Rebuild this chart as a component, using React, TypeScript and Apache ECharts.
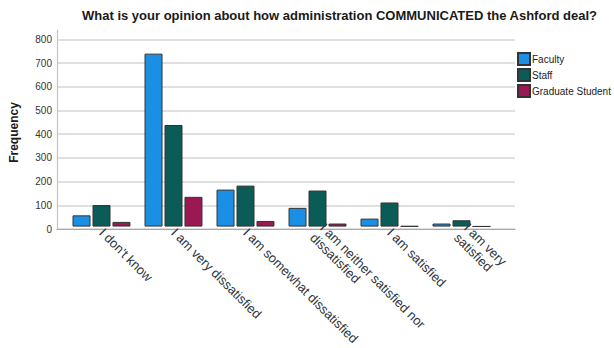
import React, { useEffect, useRef } from "react";
import * as echarts from "echarts";

const categories = [
  "I don't know",
  "I am very dissatisfied",
  "I am somewhat dissatisfied",
  "I am neither satisfied nor\ndissatisfied",
  "I am satisfied",
  "I am very\nsatisfied",
];
const faculty = [48, 739, 158, 80, 34, 13];
const staff = [92, 434, 175, 154, 103, 27];
const gradStudent = [20, 127, 24, 13, 2, 1];
const seriesNames = ["Faculty", "Staff", "Graduate Student"];
const colors = ["#1b8fe3", "#0b5b57", "#9b1952"];
const titleText = "What is your opinion about how administration COMMUNICATED the Ashford deal?";

export default function App() {
  const ref = useRef<HTMLDivElement>(null);
  useEffect(() => {
    if (!ref.current) return;
    const chart = echarts.init(ref.current, undefined, { renderer: "svg" });
    const font = "'Liberation Sans', Arial, sans-serif";
    const values = [faculty, staff, gradStudent];
    chart.setOption({
      animation: false,
      textStyle: { fontFamily: font },
      title: {
        text: titleText,
        left: 339.5,
        textAlign: "center",
        top: 9,
        padding: 0,
        textStyle: { fontSize: 13, fontWeight: "bold", color: "#1a1a1a", fontFamily: font },
      },
      legend: {
        orient: "vertical",
        left: 517,
        top: 52,
        padding: 0,
        itemWidth: 12,
        itemHeight: 12,
        itemGap: 2,
        icon: "rect",
        data: seriesNames,
        textStyle: { fontSize: 10, color: "#222", padding: [0, 0, 0, -3], fontFamily: font },
      },
      grid: [
        { left: 48, right: 99, top: 30, bottom: 119 },
        { left: 65.5, right: 116.5, top: 30, bottom: 119 },
      ],
      xAxis: [
        {
          gridIndex: 0,
          type: "value",
          min: 0,
          max: 1,
          axisLine: { show: true, lineStyle: { color: "#a8a8a8", width: 1.2 } },
          axisTick: { show: false },
          axisLabel: { show: false },
          splitLine: { show: false },
        },
        {
          gridIndex: 1,
          type: "category",
          data: categories,
          axisLine: { show: false },
          axisTick: { show: false },
          axisLabel: {
            rotate: -45,
            interval: 0,
            margin: 4,
            fontSize: 13,
            color: "#333",
            lineHeight: 14,
            fontFamily: font,
          },
        },
      ],
      yAxis: [
        {
          gridIndex: 0,
          type: "value",
          min: 0,
          max: 840,
          interval: 100,
          name: "Frequency",
          nameLocation: "middle",
          nameGap: 37,
          nameTextStyle: {
            fontSize: 12,
            fontWeight: "bold",
            color: "#1a1a1a",
            fontFamily: font,
            padding: [0, 6, 0, 0],
          },
          axisLine: { show: true, lineStyle: { color: "#c4c4c4", width: 1.2 } },
          axisTick: { show: false },
          axisLabel: { fontSize: 10, color: "#333", margin: 5, showMaxLabel: false, fontFamily: font },
          splitLine: { show: true, showMaxLine: false, lineStyle: { color: "#d6d6d6", width: 1.5 } },
        },
        {
          gridIndex: 1,
          type: "value",
          min: 0,
          max: 840,
          interval: 100,
          show: false,
          splitLine: { show: false },
        },
      ],
      series: seriesNames.map((name, i) => ({
        name,
        type: "bar",
        xAxisIndex: 1,
        yAxisIndex: 1,
        data: values[i],
        barWidth: 18,
        barGap: "11%",
        itemStyle: { color: colors[i], borderColor: "#333", borderWidth: 1 },
      })),
    });
    return () => chart.dispose();
  }, []);
  return <div ref={ref} style={{ position: "absolute", left: 0, top: 0, width: 614, height: 348 }} />;
}
